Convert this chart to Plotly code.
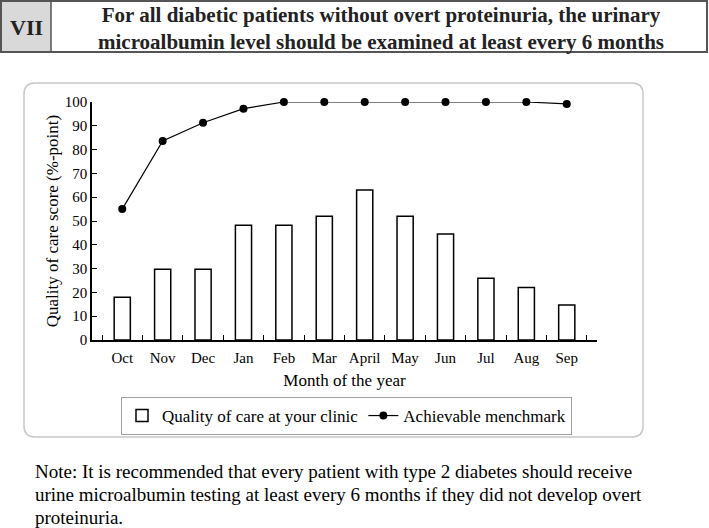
import plotly.graph_objects as go

months = ["Oct", "Nov", "Dec", "Jan", "Feb", "Mar", "April", "May", "Jun", "Jul", "Aug", "Sep"]
clinic_scores = [18, 29.7, 29.7, 48.2, 48.2, 52, 63, 52, 44.5, 25.9, 22.1, 14.7]
benchmark = [55, 83.6, 91.3, 97.2, 100, 100, 100, 100, 100, 100, 100, 99.2]
y_ticks = [0, 10, 20, 30, 40, 50, 60, 70, 80, 90, 100]
note_lines = [
    "Note: It is recommended that every patient with type 2 diabetes should receive",
    "urine microalbumin testing at least every 6 months if they did not develop overt",
    "proteinuria.",
]

W, H = 709, 528
L, R, T, B = 92, 597, 102, 340
FONT = "Liberation Serif, Times New Roman, serif"


def px(x):
    return (x - L) / (R - L)


def py(y):
    return (B - y) / (B - T)


fig = go.Figure()
fig.add_trace(go.Bar(
    x=months, y=clinic_scores, name="Quality of care at your clinic",
    marker=dict(color="white", line=dict(color="black", width=1.5)),
))
fig.add_trace(go.Scatter(
    x=months, y=benchmark, name="Achievable menchmark", mode="lines+markers",
    line=dict(color="black", width=1.2), marker=dict(color="black", size=8),
    cliponaxis=False,
))

# rounded chart frame
x0, y0, x1, y1, r = 24, 83, 643, 437, 11
path = (f"M {px(x0+r)} {py(y0)} L {px(x1-r)} {py(y0)} "
        f"Q {px(x1)} {py(y0)} {px(x1)} {py(y0+r)} L {px(x1)} {py(y1-r)} "
        f"Q {px(x1)} {py(y1)} {px(x1-r)} {py(y1)} L {px(x0+r)} {py(y1)} "
        f"Q {px(x0)} {py(y1)} {px(x0)} {py(y1-r)} L {px(x0)} {py(y0+r)} "
        f"Q {px(x0)} {py(y0)} {px(x0+r)} {py(y0)} Z")
shapes = [
    dict(type="path", xref="paper", yref="paper", path=path,
         line=dict(color="#c8c8c8", width=1.5), layer="below"),
    dict(type="rect", xref="paper", yref="paper", x0=px(1), x1=px(51), y0=py(1), y1=py(52),
         fillcolor="#d9d9d9", line=dict(width=0), layer="below"),
    dict(type="rect", xref="paper", yref="paper", x0=px(1), x1=px(707), y0=py(1), y1=py(52),
         line=dict(color="#555555", width=2)),
    dict(type="line", xref="paper", yref="paper", x0=px(51), x1=px(51), y0=py(1), y1=py(52),
         line=dict(color="#555555", width=1.5)),
]

annotations = [
    dict(xref="paper", yref="paper", x=px(26), y=py(27), text="<b>VII</b>", showarrow=False,
         font=dict(family=FONT, size=22, color="#222"), xanchor="center", yanchor="middle"),
    dict(xref="paper", yref="paper", x=px(381), y=py(28),
         text="<b>For all diabetic patients without overt proteinuria, the urinary<br>"
              "microalbumin level should be examined at least every 6 months</b>",
         showarrow=False, font=dict(family=FONT, size=21, color="#222"),
         xanchor="center", yanchor="middle", align="center"),
]
for i, line in enumerate(note_lines):
    annotations.append(dict(
        xref="paper", yref="paper", x=px(33), y=py(471 + 23 * i), text=line,
        showarrow=False, font=dict(family=FONT, size=19, color="black"),
        xanchor="left", yanchor="middle", align="left"))

fig.update_layout(
    width=W, height=H,
    margin=dict(l=L, r=W - R, t=T, b=H - B, pad=0),
    paper_bgcolor="white", plot_bgcolor="white",
    font=dict(family=FONT, color="black"),
    bargap=0.6,
    showlegend=True,
    legend=dict(orientation="h", x=px(121), y=py(397), xanchor="left", yanchor="top",
                bordercolor="#a0a0a0", borderwidth=1, bgcolor="white",
                font=dict(family=FONT, size=17, color="black"), itemwidth=30,
                tracegroupgap=0),
    shapes=shapes, annotations=annotations,
)
fig.update_xaxes(
    type="category", showline=True, linecolor="black", linewidth=1.5,
    ticks="inside", tickson="boundaries", ticklen=5, tickcolor="black", tickwidth=1.2,
    tickfont=dict(family=FONT, size=15), showgrid=False, zeroline=False,
    tickangle=0, ticklabelstandoff=3, automargin=False,
    title=dict(text="Month of the year", font=dict(family=FONT, size=17), standoff=9),
)
fig.update_yaxes(
    range=[0, 100], tickvals=y_ticks, showline=True, linecolor="black", linewidth=1.5,
    ticks="inside", ticklen=5, tickcolor="black", tickwidth=1.2, automargin=False,
    tickfont=dict(family=FONT, size=15), showgrid=False, zeroline=False,
    title=dict(text="Quality of care score (%-point)", font=dict(family=FONT, size=17), standoff=2),
)

fig.write_html("out.html", config={"displayModeBar": False},
               post_script="document.body.style.margin='0px';")
